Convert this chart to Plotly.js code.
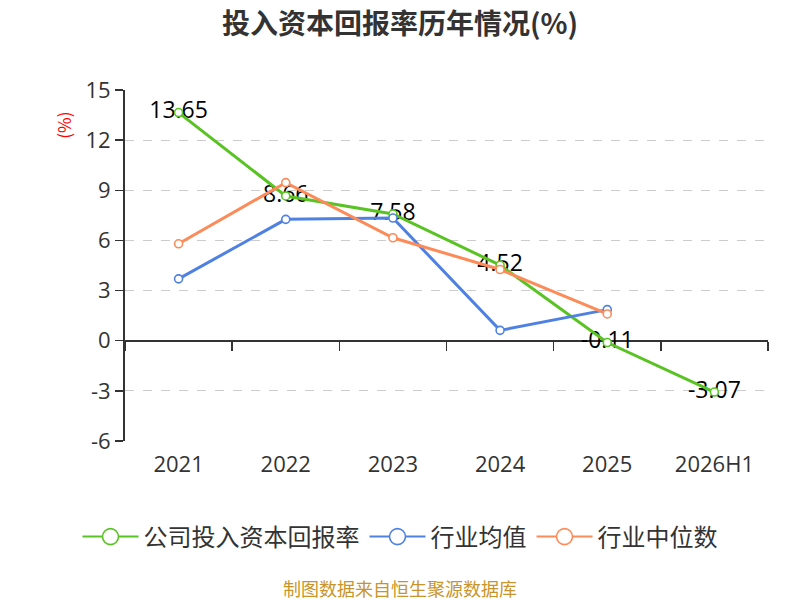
<!DOCTYPE html>
<html><head><meta charset="utf-8">
<script src="https://cdn.plot.ly/plotly-3.0.1.min.js"></script>
<style>html,body{margin:0;padding:0;background:#fff}</style>
</head><body>
<div id="chart" style="width:800px;height:600px"></div>
<script>
const categories = ["2021","2022","2023","2024","2025","2026H1"];
const companyROIC = [13.65, 8.66, 7.58, 4.52, -0.11, -3.07];
const industryMean = [3.70, 7.26, 7.34, 0.62, 1.86];
const industryMedian = [5.80, 9.46, 6.16, 4.26, 1.60];
const seriesNames = ["公司投入资本回报率", "行业均值", "行业中位数"];
const yTicks = [-6, -3, 0, 3, 6, 9, 12, 15];

const font = "'Noto Sans CJK SC', 'Noto Sans', sans-serif";
const numFont = "'Open Sans', 'Noto Sans', sans-serif";
const colors = ["#58c322", "#4f81e3", "#fd8b5a"];
const pageCenter = (400 - 125) / 643;

function lineTrace(y, name, color) {
  return {
    type: "scatter", mode: "lines+markers", name: name,
    x: categories.slice(0, y.length), y: y,
    xaxis: "x2", yaxis: "y",
    line: {color: color, width: 3},
    marker: {symbol: "circle", size: 8, color: "#ffffff", line: {color: color, width: 1.6}},
    showlegend: false, hoverinfo: "skip"
  };
}
function legendTrace(name, color) {
  return {
    type: "scatter", mode: "lines+markers", name: name,
    x: [null], y: [null], xaxis: "x2", yaxis: "y",
    line: {color: color, width: 2},
    marker: {symbol: "circle", size: 16, color: "#ffffff", line: {color: color, width: 1.6}},
    showlegend: true, hoverinfo: "skip"
  };
}

const traces = [
  {
    type: "scatter", mode: "text", x: categories, y: companyROIC,
    xaxis: "x", yaxis: "y",
    text: companyROIC.map(v => String(v)),
    textposition: "middle center",
    textfont: {family: numFont, size: 23, color: "#000000"},
    showlegend: false, hoverinfo: "skip"
  },
  lineTrace(companyROIC, seriesNames[0], colors[0]),
  lineTrace(industryMean, seriesNames[1], colors[1]),
  lineTrace(industryMedian, seriesNames[2], colors[2]),
  legendTrace(seriesNames[0], colors[0]),
  legendTrace(seriesNames[1], colors[1]),
  legendTrace(seriesNames[2], colors[2])
];

const layout = {
  width: 800, height: 600,
  margin: {l: 125, r: 32, t: 90, b: 159},
  paper_bgcolor: "#ffffff", plot_bgcolor: "#ffffff",
  font: {family: font, color: "#333333"},
  title: {text: "<b>投入资本回报率历年情况(%)</b>", x: 0.5, xanchor: "center", y: 0.96, yanchor: "middle",
          font: {family: font, size: 28, color: "#333333"}},
  showlegend: true,
  legend: {orientation: "h", x: pageCenter, xanchor: "center", y: -0.2735, yanchor: "middle",
           font: {family: font, size: 24, color: "#333333"}, itemwidth: 56, tracegroupgap: 0},
  xaxis: {type: "category", categoryarray: categories, range: [-0.5, 5.5],
          anchor: "free", position: 6/21, layer: "below traces",
          showline: true, linecolor: "#333333", linewidth: 2,
          ticks: "outside", tickson: "boundaries", ticklen: 9, tickcolor: "#333333", tickwidth: 1.5,
          showticklabels: false, showgrid: false, zeroline: false, fixedrange: true},
  xaxis2: {type: "category", categoryarray: categories, range: [-0.5, 5.5], overlaying: "x",
           anchor: "y", side: "bottom",
           showline: false, showgrid: false, zeroline: false, ticks: "",
           tickfont: {family: numFont, size: 22, color: "#333333"}, ticklabelstandoff: 8, fixedrange: true},
  yaxis: {range: [-6, 15], tickvals: yTicks, ticktext: yTicks.map(String),
          showline: true, linecolor: "#333333", linewidth: 2,
          ticks: "outside", ticklen: 8, tickcolor: "#333333", tickwidth: 1.5,
          showgrid: true, gridcolor: "#cccccc", griddash: "dash", gridwidth: 1.2,
          zeroline: false, tickfont: {family: numFont, size: 22, color: "#333333"}, fixedrange: true},
  annotations: [
    {text: "(%)", xref: "paper", yref: "paper", x: -0.097, y: 0.9, textangle: -90,
     showarrow: false, font: {family: font, size: 17, color: "#ff0000"}, xanchor: "center", yanchor: "middle"},
    {text: "制图数据来自恒生聚源数据库", xref: "paper", yref: "paper", x: pageCenter, y: -0.418,
     showarrow: false, font: {family: font, size: 18, color: "#c8952b"}, xanchor: "center", yanchor: "middle"}
  ]
};

Plotly.newPlot("chart", traces, layout, {displayModeBar: false, staticPlot: true});
</script>
</body></html>
